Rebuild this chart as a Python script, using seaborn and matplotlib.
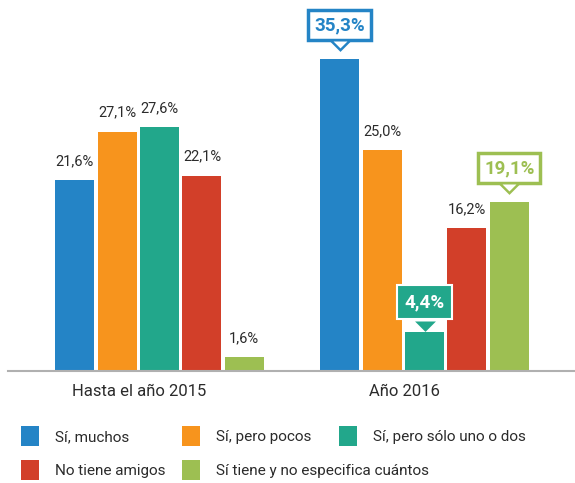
import matplotlib
matplotlib.use("Agg")
import matplotlib.pyplot as plt
import matplotlib.transforms as mtrans
from matplotlib.patches import Patch
import seaborn as sns
import pandas as pd

# ---- data ----
groups = ["Hasta el año 2015", "Año 2016"]
series = ["Sí, muchos", "Sí, pero pocos", "Sí, pero sólo uno o dos",
          "No tiene amigos", "Sí tiene y no especifica cuántos"]
vals_2015 = [21.6, 27.1, 27.6, 22.1, 1.6]
vals_2016 = [35.3, 25.0, 4.4, 16.2, 19.1]
colors = ["#2484C6", "#F7941D", "#22A78B", "#D23F29", "#9DBF52"]
# callout style per (group index, series index): 'outline' or 'filled'
callouts = {(1, 0): "outline", (1, 2): "filled", (1, 4): "outline"}

df = pd.DataFrame({
    "grupo": [g for g in groups for _ in series],
    "serie": series * 2,
    "valor": vals_2015 + vals_2016,
})

sns.set_theme(style="white")
plt.rcParams["font.family"] = ["Roboto", "DejaVu Sans"]
TXT = "#2b2b2b"

W, H, DPI = 5.75, 4.83, 100
fig = plt.figure(figsize=(W, H), dpi=DPI)
ax_left, ax_bottom = 8 / 575, (483 - 371) / 483
ax_h = 371 / 483
ax = fig.add_axes([ax_left, ax_bottom, 1 - ax_left, ax_h])

sns.barplot(data=df, x="grupo", y="valor", hue="serie", order=groups,
            hue_order=series, palette=colors, width=0.8, saturation=1,
            linewidth=0, legend=False, ax=ax)

# narrow bars slightly to leave white gaps
for cont in ax.containers:
    for bar in cont:
        w = bar.get_width()
        shrink = 0.013
        bar.set_x(bar.get_x() + shrink / 2)
        bar.set_width(w - shrink)

ax.set_xlim(-0.572, 1.568)
ax.set_ylim(0, 42)
ax.set_xlabel("")
ax.set_ylabel("")
ax.set_yticks([])
for s in ["top", "right", "left"]:
    ax.spines[s].set_visible(False)
ax.spines["bottom"].set_color("#b0b0b0")
ax.spines["bottom"].set_linewidth(1.5)
ax.tick_params(axis="x", length=0, pad=9, labelsize=12, labelcolor=TXT)
shift = mtrans.ScaledTranslation(-20 / DPI, 0, fig.dpi_scale_trans)
for lab in ax.get_xticklabels():
    lab.set_transform(lab.get_transform() + shift)

tri_verts = [(-1, 0), (1, 0), (0, -1)]

def fmt(v):
    return f"{v:.1f}".replace(".", ",") + "%"

for si, cont in enumerate(ax.containers):
    for gi, bar in enumerate(cont):
        v = bar.get_height()
        cx = bar.get_x() + bar.get_width() / 2
        style = callouts.get((gi, si))
        if style is None:
            ax.annotate(fmt(v), (cx, v), xytext=(0, 19), textcoords="offset pixels",
                        ha="center", va="center", fontsize=10.5, color=TXT)
            continue
        col = colors[si]
        if style == "outline":
            bbox = dict(boxstyle="square,pad=0.32", fc="white", ec=col, lw=2.5)
            tc = col
            yo, base = 34, 17
        else:
            bbox = dict(boxstyle="square,pad=0.42", fc=col, ec="white", lw=1.5)
            tc = "white"
            yo, base = 30, 10
        ax.annotate(fmt(v), (cx, v), xytext=(0, yo), textcoords="offset pixels",
                    ha="center", va="center", fontsize=13.5, fontweight="bold",
                    color=tc, bbox=bbox, zorder=5)
        # pointer triangle
        tr_outer = mtrans.offset_copy(ax.transData, fig=fig, x=0, y=base + 1.2, units="dots")
        ax.plot([cx], [v], marker=tri_verts, markersize=15, color=col,
                markeredgewidth=0, transform=tr_outer, zorder=6, clip_on=False)
        if style == "outline":
            tr_inner = mtrans.offset_copy(ax.transData, fig=fig, x=0, y=base + 1.4, units="dots")
            ax.plot([cx], [v], marker=tri_verts, markersize=10, color="white",
                    markeredgewidth=0, transform=tr_inner, zorder=7, clip_on=False)

# legend laid out on a fixed grid (row-major)
col_x = [21 / 575, 182 / 575, 339 / 575]
row_y = [1 - 436 / 483, 1 - 470 / 483]
for i, (name, c) in enumerate(zip(series, colors)):
    r, k = divmod(i, 3)
    fig.legend(handles=[Patch(facecolor=c, edgecolor="none", label=name)],
               loc="center left", bbox_to_anchor=(col_x[k], row_y[r]),
               frameon=False, fontsize=11, handlelength=1.2,
               handleheight=1.55, handletextpad=1.05, borderpad=0,
               borderaxespad=0, labelcolor=TXT)

fig.savefig("out.png", dpi=DPI)
